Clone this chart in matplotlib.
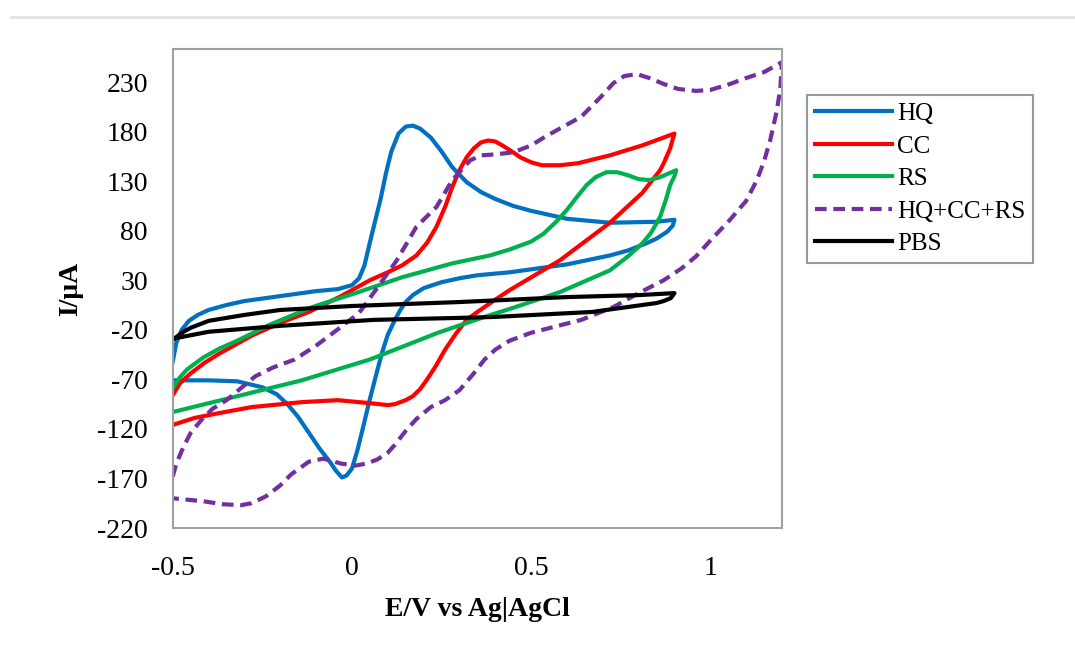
import matplotlib
matplotlib.use("Agg")
import matplotlib.pyplot as plt
from matplotlib.lines import Line2D

plt.rcParams["font.family"] = ["Liberation Serif", "DejaVu Serif"]
plt.rcParams["axes.unicode_minus"] = False

# HQ: anodic sweep then cathodic sweep
hq_e = [-0.5, -0.49, -0.475, -0.455, -0.43, -0.4, -0.35, -0.3, -0.2, -0.1, -0.04, 0.0, 0.02,
        0.035, 0.05, 0.065, 0.08, 0.095, 0.11, 0.13, 0.15, 0.17, 0.19, 0.22, 0.25, 0.28, 0.32,
        0.36, 0.4, 0.45, 0.5, 0.6, 0.72, 0.85, 0.9,
        0.895, 0.88, 0.85, 0.82, 0.77, 0.72, 0.6, 0.44, 0.35, 0.3, 0.25, 0.2, 0.17, 0.15, 0.135,
        0.12, 0.1, 0.085, 0.07, 0.05, 0.03, 0.015, 0.0, -0.015, -0.028, -0.045, -0.06, -0.09,
        -0.12, -0.15, -0.18, -0.21, -0.25, -0.32, -0.4, -0.5]
hq_i = [-52, -33, -20, -11, -5, 0, 5, 9, 14, 19, 21, 25, 32,
        45, 68, 90, 112, 138, 160, 178, 185, 186, 183, 174, 160, 144, 129,
        119, 112, 105, 100, 92, 88, 89, 91,
        85, 79, 72, 67, 60, 55, 46, 38, 35, 32, 28, 22, 15, 8, 0,
        -10, -25, -42, -62, -90, -120, -142, -160, -167, -169, -162, -154, -140,
        -124, -108, -95, -85, -78, -72, -71, -71]

# CC
cc_e = [-0.5, -0.48, -0.45, -0.41, -0.37, -0.28, -0.2, -0.12, -0.03, 0.05, 0.1, 0.14, 0.18,
        0.21, 0.236, 0.26, 0.28, 0.3, 0.32, 0.34, 0.36, 0.38, 0.4, 0.42, 0.45, 0.47, 0.5,
        0.53, 0.58, 0.63, 0.72, 0.81, 0.9,
        0.895, 0.888, 0.87, 0.86, 0.81, 0.72, 0.58, 0.44, 0.39, 0.35, 0.32, 0.29, 0.26, 0.235,
        0.21, 0.19, 0.17, 0.15, 0.12, 0.1, 0.05, -0.04, -0.14, -0.28, -0.37, -0.44, -0.5]
cc_i = [-86, -74, -64, -53, -44, -26, -13, -2, 14, 30, 38, 45, 55,
        68, 84, 104, 124, 141, 154, 163, 169, 171, 170, 166, 159, 154, 149,
        146, 146, 148, 156, 166, 178,
        172, 163, 148, 141, 118, 88, 50, 20, 8, -2, -10, -24, -40, -56,
        -70, -80, -87, -91, -95, -96, -94, -91, -93, -98, -104, -109, -116]

# RS
rs_e = [-0.5, -0.48, -0.46, -0.415, -0.37, -0.32, -0.23, -0.11, 0.01, 0.14, 0.28, 0.385, 0.44,
        0.5, 0.535, 0.57, 0.6, 0.63, 0.655, 0.68, 0.71, 0.74, 0.77, 0.8, 0.83, 0.86, 0.905,
        0.9, 0.888, 0.875, 0.86, 0.835, 0.81, 0.77, 0.72, 0.58, 0.44, 0.37, 0.24, 0.05, -0.14,
        -0.32, -0.5]
rs_i = [-79, -68, -60, -48, -39, -31, -15, 3, 17, 33, 47, 55, 61,
        69, 77, 89, 101, 115, 126, 134, 139, 139, 136, 132, 131, 134, 141,
        135, 126, 110, 94, 78, 67, 54, 40, 18, 1, -7, -23, -50, -71,
        -87, -103]

# HQ+CC+RS
mix_e = [-0.5, -0.49, -0.47, -0.45, -0.42, -0.39, -0.35, -0.31, -0.27, -0.22, -0.16, -0.1,
         -0.03, 0.02, 0.07, 0.125, 0.18, 0.236, 0.28, 0.33, 0.36, 0.4, 0.45, 0.5, 0.54, 0.64,
         0.7, 0.73, 0.76, 0.795, 0.83, 0.87, 0.91, 0.96, 1.0, 1.055, 1.1, 1.15, 1.2,
         1.198, 1.195, 1.185, 1.167, 1.15, 1.13, 1.1, 1.055, 1.0, 0.96, 0.92, 0.87, 0.8, 0.73,
         0.64, 0.5, 0.44, 0.4, 0.37, 0.34, 0.3, 0.26, 0.22, 0.18, 0.15, 0.12, 0.1, 0.07, 0.04,
         0.01, -0.03, -0.08, -0.12, -0.17, -0.2, -0.24, -0.28, -0.31, -0.36, -0.415, -0.5]
mix_i = [-168, -155, -138, -124, -111, -100, -91, -79, -67, -58, -50, -36,
         -17, -3, 22, 50, 84, 104, 131, 151, 156, 157, 159, 166, 175, 195,
         217, 229, 236, 238, 234, 228, 223, 221, 222, 228, 234, 240, 250,
         238, 222, 200, 171, 150, 131, 110, 91, 70, 54, 42, 30, 17, 3,
         -10, -23, -31, -40, -50, -64, -81, -91, -98, -110, -122, -136, -144, -151, -155,
         -157, -155, -150, -153, -166, -177, -188, -195, -197, -196, -193, -190]

# PBS
pbs_e = [-0.5, -0.47, -0.45, -0.4, -0.3, -0.2, 0.0, 0.3, 0.6, 0.8, 0.9,
         0.89, 0.87, 0.85, 0.67, 0.4, 0.3, 0.06, -0.2, -0.4, -0.5]
pbs_i = [-30, -22, -18, -11, -5, 0, 4, 8, 13, 15, 17,
         12, 9, 7, -2, -7, -8, -10, -16, -22, -29]

fig = plt.figure(figsize=(10.75, 6.53), dpi=100)
ax = fig.add_axes([0.1607, 0.1914, 0.5667, 0.7331])

lw = 3
ax.plot(hq_e, hq_i, color="#0070C0", lw=lw, label="HQ", solid_joinstyle="round")
ax.plot(cc_e, cc_i, color="#FF0000", lw=lw, label="CC", solid_joinstyle="round")
ax.plot(rs_e, rs_i, color="#00B050", lw=lw, label="RS", solid_joinstyle="round")
ax.plot(mix_e, mix_i, color="#7030A0", lw=lw, ls="--", dashes=(2.8, 1.6), label="HQ+CC+RS")
ax.plot(pbs_e, pbs_i, color="black", lw=lw, label="PBS", solid_joinstyle="round")

ax.set_xlim(-0.5, 1.2)
ax.set_ylim(-220, 263)
ax.set_xticks([-0.5, 0, 0.5, 1])
ax.set_xticklabels(["-0.5", "0", "0.5", "1"])
yt = list(range(-220, 231, 50))
ax.set_yticks(yt)
ax.set_yticklabels([str(v) for v in yt])
ax.tick_params(length=0, labelsize=20)
ax.tick_params(axis="y", pad=18)
ax.tick_params(axis="x", pad=20)

for s in ax.spines.values():
    s.set_color("#a0a0a0")
    s.set_linewidth(1.5)

ax.set_xlabel("E/V vs Ag|AgCl", fontsize=20, fontweight="bold", labelpad=12)
ax.set_ylabel("I/μA", fontsize=20, fontweight="bold", labelpad=10)

leg = ax.legend(loc="upper left", bbox_to_anchor=(0.7507, 0.8545), bbox_transform=fig.transFigure,
                borderaxespad=0, fontsize=18, handlelength=3.1, handletextpad=0.2,
                labelspacing=0.4, fancybox=False, borderpad=0.3)
leg.get_frame().set_edgecolor("#808080")
leg.get_frame().set_linewidth(1.5)

fig.add_artist(Line2D([0.01, 1.0], [1 - 17 / 653] * 2, color="#e0e0e0", lw=2))

fig.savefig("out.png", dpi=100)
